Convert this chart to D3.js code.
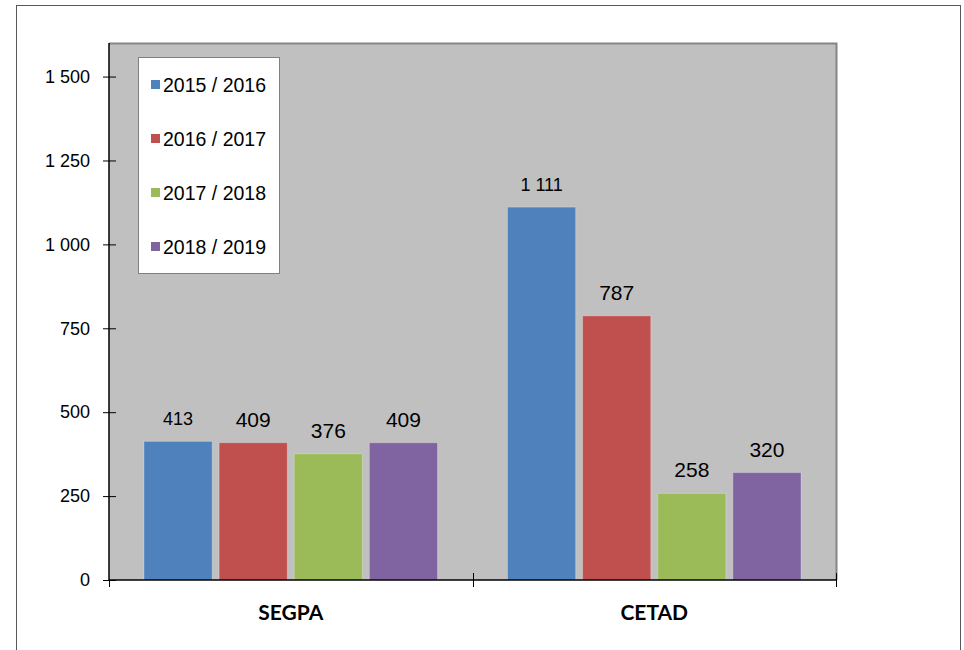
<!DOCTYPE html>
<html>
<head>
<meta charset="utf-8">
<script src="https://cdn.jsdelivr.net/npm/d3@7"></script>
<style>
  body { margin: 0; background: #fff; }
  svg { display: block; }
</style>
</head>
<body>
<div id="chart"></div>
<script>
var categories = ['SEGPA', 'CETAD'];
var series = ['2015 / 2016', '2016 / 2017', '2017 / 2018', '2018 / 2019'];
var colors = ['#4f81bd', '#c0504d', '#9bbb59', '#8064a2'];
// one row per category, one value per school year
var values = [
  [413, 409, 376, 409],
  [1111, 787, 258, 320]
];
var yTicks = [0, 250, 500, 750, 1000, 1250, 1500];
var yMax = 1600;

var W = 964, H = 650;
var plot = {left: 109, right: 836, top: 43, bottom: 580};

var fr = d3.formatLocale({decimal: ',', thousands: ' ', grouping: [3], currency: ['', '']});
var fmt = fr.format(',d');

var svg = d3.select('#chart').append('svg')
  .attr('width', W)
  .attr('height', H);

// outer frame (runs off the bottom of the picture)
svg.append('rect')
  .attr('x', 16.5).attr('y', 5.5)
  .attr('width', 944).attr('height', 700)
  .attr('fill', '#fff')
  .attr('stroke', '#595959');

var y = d3.scaleLinear()
  .domain([0, yMax])
  .range([plot.bottom, plot.top]);

var x0 = d3.scaleBand()
  .domain(categories)
  .range([plot.left, plot.right]);

var x1 = d3.scaleBand()
  .domain(series)
  .range([35, x0.bandwidth() - 35])
  .paddingInner(0.093);

// plot area
svg.append('rect')
  .attr('x', plot.left).attr('y', plot.top)
  .attr('width', plot.right - plot.left)
  .attr('height', plot.bottom - plot.top)
  .attr('fill', '#c0c0c0');

svg.append('path')
  .attr('d', 'M' + plot.left + ',' + (plot.top + 0.5) + 'H' + (plot.right + 0.5) + 'V' + plot.bottom)
  .attr('fill', 'none')
  .attr('stroke', '#858585')
  .attr('stroke-width', 2);

// bars
var groups = svg.selectAll('g.cat')
  .data(categories)
  .enter()
  .append('g')
  .attr('class', 'cat')
  .attr('transform', function(d) { return 'translate(' + x0(d) + ',0)'; });

groups.selectAll('rect')
  .data(function(d, i) { return values[i].map(function(v, j) { return {s: series[j], v: v, c: colors[j]}; }); })
  .enter()
  .append('rect')
  .attr('x', function(d) { return x1(d.s); })
  .attr('y', function(d) { return y(d.v); })
  .attr('width', x1.bandwidth())
  .attr('height', function(d) { return y(0) - y(d.v); })
  .attr('fill', function(d) { return d.c; })
  .attr('stroke', '#fff')
  .attr('stroke-opacity', 0.25)
  .attr('stroke-width', 1);

// value labels (a couple are a bit smaller in the original)
var smaller = {413: 18, 1111: 18};
groups.selectAll('text')
  .data(function(d, i) { return values[i].map(function(v, j) { return {s: series[j], v: v}; }); })
  .enter()
  .append('text')
  .attr('x', function(d) { return x1(d.s) + x1.bandwidth() / 2; })
  .attr('y', function(d) { return y(d.v) - 16; })
  .attr('text-anchor', 'middle')
  .style('font-family', '"Liberation Sans", Arial, sans-serif')
  .style('font-size', function(d) { return (smaller[d.v] || 21) + 'px'; })
  .style('fill', '#000')
  .text(function(d) { return fmt(d.v); });

// y axis
var yAxis = svg.append('g')
  .attr('transform', 'translate(' + plot.left + ',0)')
  .call(d3.axisLeft(y).tickValues(yTicks).tickSize(6).tickPadding(13).tickFormat(fmt));

yAxis.select('.domain')
  .attr('d', 'M0,' + plot.top + 'V' + plot.bottom)
  .attr('stroke', '#000')
  .attr('stroke-width', 1.5);
yAxis.selectAll('.tick line')
  .attr('x1', 7).attr('x2', -6)
  .attr('stroke', '#000');
yAxis.selectAll('.tick text')
  .style('font-family', '"Liberation Sans", Arial, sans-serif')
  .style('font-size', '18px')
  .style('fill', '#000');

// x axis: line plus ticks on the category boundaries
var xAxis = svg.append('g');
xAxis.append('line')
  .attr('x1', plot.left).attr('x2', plot.right)
  .attr('y1', plot.bottom).attr('y2', plot.bottom)
  .attr('stroke', '#000')
  .attr('stroke-width', 1.5);

var bounds = categories.map(function(c) { return x0(c); }).concat([x0.range()[1]]);
xAxis.selectAll('line.tick')
  .data(bounds)
  .enter()
  .append('line')
  .attr('class', 'tick')
  .attr('x1', function(d) { return Math.round(d) + 0.5; })
  .attr('x2', function(d) { return Math.round(d) + 0.5; })
  .attr('y1', function(d, i) { return i == 0 ? plot.bottom : plot.bottom - 7; })
  .attr('y2', plot.bottom + 7)
  .attr('stroke', '#000');

xAxis.selectAll('text')
  .data(categories)
  .enter()
  .append('text')
  .attr('x', function(d) { return x0(d) + x0.bandwidth() / 2; })
  .attr('y', 619.5)
  .attr('text-anchor', 'middle')
  .style('font-family', 'Lato, "Open Sans", sans-serif')
  .style('font-weight', 'bold')
  .style('font-size', '21px')
  .style('fill', '#000')
  .text(function(d) { return d; });

// legend
var legend = svg.append('g');
legend.append('rect')
  .attr('x', 138.5).attr('y', 57.5)
  .attr('width', 141).attr('height', 216)
  .attr('fill', '#fff')
  .attr('stroke', '#808080');

var items = legend.selectAll('g.item')
  .data(series)
  .enter()
  .append('g')
  .attr('class', 'item')
  .attr('transform', function(d, i) { return 'translate(0,' + (84.5 + i * 54) + ')'; });

items.append('rect')
  .attr('x', 151).attr('y', -4.5)
  .attr('width', 9).attr('height', 9)
  .attr('fill', function(d, i) { return colors[i]; });

items.append('text')
  .attr('x', 163)
  .attr('y', 7)
  .style('font-family', '"Liberation Sans", Arial, sans-serif')
  .style('font-size', '19.5px')
  .style('fill', '#000')
  .text(function(d) { return d; });
</script>
</body>
</html>
